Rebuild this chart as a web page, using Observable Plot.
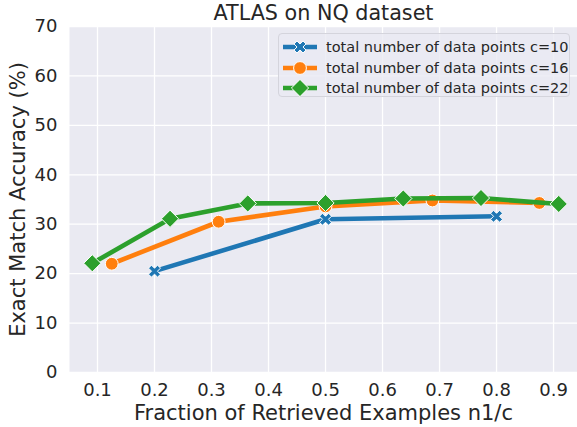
<!DOCTYPE html>
<html><head><meta charset="utf-8">
<script src="https://cdn.jsdelivr.net/npm/d3@7"></script>
<script src="https://cdn.jsdelivr.net/npm/@observablehq/plot@0.6"></script>
<style>
body{margin:0;background:#fff;}
#wrap{position:relative;width:577px;height:427px;font-family:"DejaVu Sans",sans-serif;}
#legend{position:absolute;left:278px;top:33px;width:292px;height:64px;box-sizing:border-box;border:1px solid #d4d4dc;border-radius:4px;background:rgba(234,234,242,0.8);}
.row{position:absolute;left:4px;height:20px;display:flex;align-items:center;}
.row span{font-size:14.5px;color:#262626;margin-left:9px;white-space:nowrap;}
</style></head><body><div id="wrap"><div id="legend"></div></div>
<script>
const title = "ATLAS on NQ dataset";
const xLabel = "Fraction of Retrieved Examples n1/c";
const yLabel = "Exact Match Accuracy (%)";
const xTicks = [0.1, 0.2, 0.3, 0.4, 0.5, 0.6, 0.7, 0.8, 0.9];
const yTicks = [0, 10, 20, 30, 40, 50, 60, 70];
const seriesNames = ["total number of data points c=10", "total number of data points c=16", "total number of data points c=22"];
const seriesColors = ["#1f77b4", "#ff7f0e", "#2ca02c"];
const x10 = [0.2, 0.5, 0.8];
const y10 = [20.5, 31.0, 31.6];
const x16 = [0.125, 0.3125, 0.5, 0.6875, 0.875];
const y16 = [22.0, 30.5, 33.6, 34.8, 34.3];
const x22 = [0.0909, 0.2273, 0.3636, 0.5, 0.6364, 0.7727, 0.9091];
const y22 = [22.1, 31.1, 34.2, 34.3, 35.2, 35.3, 34.1];

const symX = {draw(ctx){ const a=6.4, w=2.1; const pts=[[w,a],[w,w],[a,w],[a,-w],[w,-w],[w,-a],[-w,-a],[-w,-w],[-a,-w],[-a,w],[-w,w],[-w,a]]; const c=Math.SQRT1_2; pts.forEach(([px,py],i)=>{const rx=(px-py)*c, ry=(px+py)*c; if(i) ctx.lineTo(rx,ry); else ctx.moveTo(rx,ry);}); ctx.closePath(); }};
const symCircle = {draw(ctx){ ctx.moveTo(6.4,0); ctx.arc(0,0,6.4,0,2*Math.PI); ctx.closePath(); }};
const symDiamond = {draw(ctx){ const h=8.6; ctx.moveTo(0,-h); ctx.lineTo(h,0); ctx.lineTo(0,h); ctx.lineTo(-h,0); ctx.closePath(); }};
const symbols = [symX, symCircle, symDiamond];

const seriesX = [x10, x16, x22];
const seriesY = [y10, y16, y22];
const data = seriesX.map((xs, k) => xs.map((x, i) => ({x, y: seriesY[k][i], k})));

const textColor = "#262626";
const marks = [
  Plot.frame({fill: "#eaeaf2"}),
  Plot.gridX(xTicks, {stroke: "white", strokeOpacity: 1, strokeWidth: 1.3}),
  Plot.gridY(yTicks, {stroke: "white", strokeOpacity: 1, strokeWidth: 1.3}),
  Plot.axisX(xTicks, {tickSize: 0, tickPadding: 11, fontSize: 18, tickFormat: d => d.toFixed(1), label: null, color: textColor}),
  Plot.axisY(yTicks, {tickSize: 0, tickPadding: 12, fontSize: 18, label: null, color: textColor}),
];
data.forEach((rows, k) => {
  marks.push(Plot.line(rows, {x: "x", y: "y", stroke: seriesColors[k], strokeWidth: 4.6, strokeLinejoin: "round", strokeLinecap: "butt"}));
  marks.push(Plot.dot(rows, {x: "x", y: "y", symbol: symbols[k], r: 6, fill: seriesColors[k], stroke: "white", strokeWidth: 1}));
});
marks.push(
  Plot.text([title], {text: d => d, frameAnchor: "top", dy: -13, fontSize: 20.7, fill: textColor, lineAnchor: "middle", textAnchor: "middle"}),
  Plot.text([xLabel], {text: d => d, frameAnchor: "bottom", dy: 41, fontSize: 21, fill: textColor, lineAnchor: "middle", textAnchor: "middle"}),
  Plot.text([yLabel], {text: d => d, frameAnchor: "left", dx: -51, rotate: -90, fontSize: 21, fill: textColor, lineAnchor: "middle", textAnchor: "middle"})
);

const chart = Plot.plot({
  width: 577, height: 427,
  marginLeft: 69, marginRight: 0, marginTop: 26, marginBottom: 55,
  x: {domain: [0.0509, 0.942]},
  y: {domain: [0, 70]},
  style: {fontFamily: '"DejaVu Sans", sans-serif', background: "white", overflow: "visible"},
  marks
});
document.getElementById("wrap").prepend(chart);

const legend = document.getElementById("legend");
const rowTops = [3, 24, 44];
seriesNames.forEach((name, k) => {
  const row = document.createElement("div");
  row.className = "row";
  row.style.top = rowTops[k] + "px";
  const ns = "http://www.w3.org/2000/svg";
  const svg = document.createElementNS(ns, "svg");
  svg.setAttribute("width", 34); svg.setAttribute("height", 20);
  svg.style.overflow = "visible";
  const line = document.createElementNS(ns, "line");
  line.setAttribute("x1", 0); line.setAttribute("x2", 34); line.setAttribute("y1", 10); line.setAttribute("y2", 10);
  line.setAttribute("stroke", seriesColors[k]); line.setAttribute("stroke-width", 4.6);
  svg.appendChild(line);
  const p = d3.path(); symbols[k].draw(p);
  const path = document.createElementNS(ns, "path");
  path.setAttribute("d", p.toString()); path.setAttribute("transform", "translate(17,10)");
  path.setAttribute("fill", seriesColors[k]); path.setAttribute("stroke", "white"); path.setAttribute("stroke-width", 1);
  svg.appendChild(path);
  row.appendChild(svg);
  const span = document.createElement("span"); span.textContent = name;
  row.appendChild(span);
  legend.appendChild(row);
});
</script></body></html>
